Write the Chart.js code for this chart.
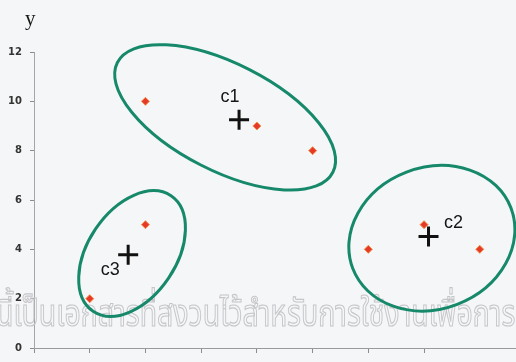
<!DOCTYPE html>
<html>
<head>
<meta charset="utf-8">
<script src="https://cdn.jsdelivr.net/npm/chart.js@4"></script>
<style>
  body { margin: 0; background: #f5f6f8; }
  canvas { display: block; }
</style>
</head>
<body>
<canvas id="kChart" width="516" height="362"></canvas>
<script>
// data points
var pointX = [1, 2, 2, 4, 5, 6, 7, 8];
var pointY = [2, 5, 10, 9, 8, 4, 5, 4];

// cluster centres
var centreNames = ['c1', 'c2', 'c3'];
var centreX = [3.68, 7.08, 1.69];
var centreY = [9.25, 4.52, 3.78];

// cluster outlines: centre, half axes (in x units), tilt in degrees
var ringX = [3.43, 7.14, 1.76];
var ringY = [9.35, 4.45, 3.83];
var ringA = [2.17, 1.52, 1.25];
var ringB = [0.96, 1.27, 0.79];
var ringTilt = [27, -21, -56];

var yTicks = [0, 2, 4, 6, 8, 10, 12];

var labelOffsets = [[-9, -23], [25, -13], [-18, 15]];

var pts = pointX.map(function (x, i) { return { x: x, y: pointY[i] }; });
var centres = centreX.map(function (x, i) { return { x: x, y: centreY[i] }; });

var extras = {
  id: 'extras',
  beforeDatasetsDraw: function (chart) {
    var c = chart.ctx, xs = chart.scales.x, ys = chart.scales.y;
    var unit = xs.getPixelForValue(1) - xs.getPixelForValue(0);

    // watermark (tall, narrow letters like the scan)
    c.save();
    c.translate(-4, 326);
    c.scale(0.75, 1);
    c.font = '38px "Noto Sans Thai", "Noto Sans", sans-serif';
    c.strokeStyle = '#c6c6c9';
    c.lineWidth = 1.2;
    c.textBaseline = 'alphabetic';
    c.strokeText('นี้เป็นเอกสารที่สงวนไว้สำหรับการใช้งานเพื่อการศึกษา', 0, 0);
    c.restore();

    c.save();
    c.strokeStyle = '#17896b';
    c.lineWidth = 3;
    for (var i = 0; i < ringX.length; i++) {
      c.beginPath();
      c.ellipse(xs.getPixelForValue(ringX[i]), ys.getPixelForValue(ringY[i]),
        ringA[i] * unit, ringB[i] * unit, ringTilt[i] * Math.PI / 180, 0, Math.PI * 2);
      c.stroke();
    }
    c.restore();
  },
  afterDatasetsDraw: function (chart) {
    var c = chart.ctx, xs = chart.scales.x, ys = chart.scales.y;
    c.save();
    c.fillStyle = '#151515';
    c.font = '18px "Liberation Sans", Arial, sans-serif';
    c.textAlign = 'center';
    c.textBaseline = 'middle';
    centreNames.forEach(function (n, i) {
      c.fillText(n, xs.getPixelForValue(centreX[i]) + labelOffsets[i][0],
        ys.getPixelForValue(centreY[i]) + labelOffsets[i][1]);
    });
    c.font = '21px "Liberation Serif", serif';
    c.textAlign = 'left';
    c.textBaseline = 'alphabetic';
    c.fillText('y', 25, 25);
    c.restore();
  }
};

new Chart(document.getElementById('kChart'), {
  type: 'scatter',
  data: {
    datasets: [{
      label: 'points',
      data: pts,
      pointStyle: 'rectRot',
      pointRadius: 4,
      backgroundColor: '#e6392a',
      borderColor: '#f08f45',
      borderWidth: 1
    }, {
      label: 'centres',
      data: centres,
      pointStyle: 'cross',
      pointRadius: 10,
      borderColor: '#111',
      borderWidth: 3
    }]
  },
  options: {
    responsive: false,
    animation: false,
    layout: { autoPadding: false, padding: { top: 52, left: 0, right: 0, bottom: 0 } },
    plugins: { legend: { display: false }, tooltip: { enabled: false } },
    scales: {
      x: {
        type: 'linear',
        min: 0,
        max: 8.65,
        afterBuildTicks: function (s) {
          s.ticks = s.ticks.filter(function (t) { return Number.isInteger(t.value); });
        },
        afterFit: function (s) { s.height = 11; },
        ticks: { display: false, stepSize: 1 },
        grid: { drawOnChartArea: false, drawTicks: true, tickLength: 5, color: '#8c8c8c' },
        border: { color: '#9a9a9a', dash: [2, 1] }
      },
      y: {
        min: 0,
        max: 12,
        afterBuildTicks: function (s) {
          s.ticks = yTicks.map(function (v) { return { value: v }; });
        },
        afterFit: function (s) { s.width = 34; },
        ticks: {
          padding: 8,
          color: '#333',
          font: { family: 'DejaVu Sans', size: 10, weight: 'bold' }
        },
        grid: { drawOnChartArea: false, drawTicks: true, tickLength: 4, color: '#8c8c8c' },
        border: { color: '#a5a5a5' }
      }
    }
  },
  plugins: [extras]
});
</script>
</body>
</html>
